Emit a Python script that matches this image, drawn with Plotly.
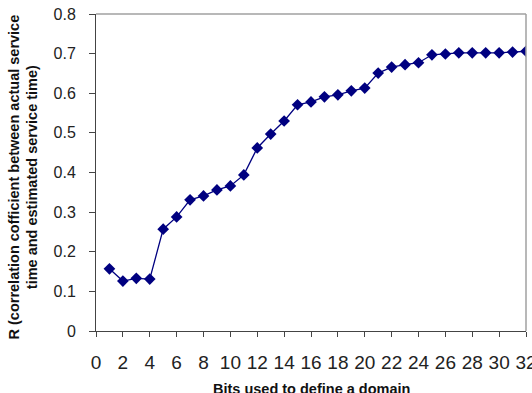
import plotly.graph_objects as go

bits = list(range(1, 33))
r_values = [0.157, 0.126, 0.133, 0.131, 0.257, 0.288, 0.331, 0.341, 0.356, 0.366,
            0.394, 0.462, 0.497, 0.530, 0.571, 0.578, 0.591, 0.596, 0.606, 0.613,
            0.651, 0.666, 0.672, 0.677, 0.697, 0.699, 0.702, 0.702, 0.702, 0.702,
            0.704, 0.706]
x_tick_vals = list(range(0, 33, 2))
y_tick_vals = [0, 0.1, 0.2, 0.3, 0.4, 0.5, 0.6, 0.7, 0.8]
x_title = "Bits used to define a domain"
y_title = "R (correlation cofficient between actual service<br>time and estimated service time)"

FONT = "Liberation Sans, Arial, sans-serif"

fig = go.Figure()
fig.add_trace(go.Scatter(
    x=bits, y=r_values, mode="lines+markers",
    line=dict(color="#000080", width=1.3),
    marker=dict(symbol="diamond", size=9, color="#000080"),
    showlegend=False,
))

fig.update_layout(
    width=532, height=393,
    margin=dict(l=96, r=6, t=14, b=62),
    paper_bgcolor="white", plot_bgcolor="white",
    font=dict(family=FONT, color="#222222"),
    xaxis=dict(
        range=[0, 32], tickvals=x_tick_vals, showgrid=False, zeroline=False,
        showline=True, linecolor="#444444", linewidth=1,
        ticks="outside", ticklen=5, tickcolor="#444444",
        tickfont=dict(size=19, family=FONT, color="#222222"),
        ticklabelstandoff=9, ticklabeloverflow="allow", automargin=False,
    ),
    yaxis=dict(
        range=[0, 0.8], tickvals=y_tick_vals, showgrid=False, zeroline=False,
        showline=True, linecolor="#444444", linewidth=1,
        ticks="outside", ticklen=6, tickcolor="#444444",
        tickfont=dict(size=16, family=FONT, color="#222222"),
        ticklabelstandoff=10, automargin=False,
    ),
    annotations=[
        dict(text="<b>" + x_title + "</b>", xref="paper", yref="paper",
             x=0.5, y=0, xanchor="center", yanchor="top", yshift=-48,
             showarrow=False, font=dict(size=14.5, family=FONT, color="#111111")),
        dict(text="<b>" + y_title + "</b>", xref="paper", yref="paper",
             x=0, y=0.5, xanchor="center", yanchor="middle", xshift=-73, yshift=-5,
             textangle=-90, showarrow=False,
             font=dict(size=14.5, family=FONT, color="#111111")),
    ],
    shapes=[
        dict(type="line", xref="paper", yref="paper", x0=0, x1=1, y0=1, y1=1,
             line=dict(color="#a0a0a0", width=1.5)),
        dict(type="line", xref="paper", yref="paper", x0=1, x1=1, y0=0, y1=1,
             line=dict(color="#a0a0a0", width=1.5)),
    ],
)

fig.write_html("out.html")
